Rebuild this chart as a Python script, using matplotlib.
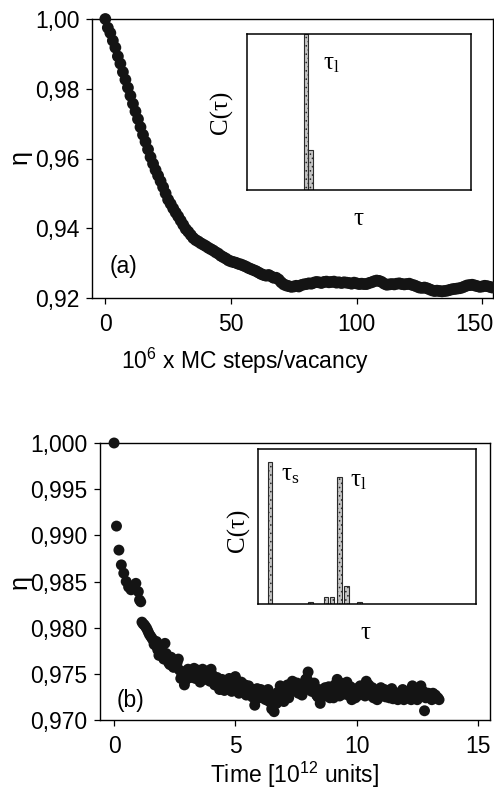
import numpy as np
import matplotlib
matplotlib.use('Agg')
import matplotlib.pyplot as plt
import matplotlib.transforms as mtransforms
from matplotlib.ticker import FuncFormatter

plt.rcParams['font.family'] = ['Liberation Sans', 'DejaVu Sans']
plt.rcParams['mathtext.fontset'] = 'custom'
plt.rcParams['mathtext.rm'] = 'Liberation Serif'
plt.rcParams['mathtext.sf'] = 'Liberation Sans'
plt.rcParams['hatch.linewidth'] = 0.6

# panel (a): eta vs 10^6 MC steps/vacancy, one point per unit step
eta_a = [
    1.0000, 0.9975, 0.9960, 0.9938, 0.9918, 0.9893, 0.9872, 0.9848, 0.9826, 0.9803,
    0.9780, 0.9757, 0.9735, 0.9713, 0.9690, 0.9668, 0.9648, 0.9626, 0.9604, 0.9585,
    0.9567, 0.9551, 0.9535, 0.9518, 0.9500, 0.9482, 0.9470, 0.9457, 0.9445, 0.9434,
    0.9422, 0.9410, 0.9398, 0.9390, 0.9381, 0.9372, 0.9366, 0.9362, 0.9357, 0.9353,
    0.9349, 0.9344, 0.9340, 0.9336, 0.9331, 0.9327, 0.9321, 0.9317, 0.9313, 0.9308,
    0.9305, 0.9303, 0.9301, 0.9298, 0.9296, 0.9293, 0.9290, 0.9286, 0.9283, 0.9280,
    0.9277, 0.9273, 0.9269, 0.9266, 0.9264, 0.9266, 0.9262, 0.9258, 0.9258, 0.9253,
    0.9245, 0.9239, 0.9236, 0.9234, 0.9232, 0.9233, 0.9235, 0.9233, 0.9237, 0.9239,
    0.9240, 0.9242, 0.9241, 0.9244, 0.9246, 0.9245, 0.9243, 0.9246, 0.9247, 0.9245,
    0.9246, 0.9247, 0.9244, 0.9245, 0.9243, 0.9245, 0.9244, 0.9243, 0.9241, 0.9244,
    0.9242, 0.9240, 0.9241, 0.9240, 0.9240, 0.9243, 0.9245, 0.9248, 0.9250, 0.9249,
    0.9246, 0.9241, 0.9238, 0.9239, 0.9240, 0.9239, 0.9241, 0.9242, 0.9240, 0.9239,
    0.9240, 0.9241, 0.9238, 0.9236, 0.9233, 0.9230, 0.9229, 0.9230, 0.9228, 0.9225,
    0.9222, 0.9220, 0.9221, 0.9220, 0.9219, 0.9220, 0.9221, 0.9223, 0.9225, 0.9226,
    0.9227, 0.9228, 0.9230, 0.9233, 0.9236, 0.9237, 0.9238, 0.9236, 0.9234, 0.9232,
    0.9233, 0.9235, 0.9234, 0.9232, 0.9230,
]
steps_a = np.arange(len(eta_a))

# panel (b): eta vs time [10^12 units], sampled every 0.1 from 0
eta_b = [
    1.0000, 0.9910, 0.9884, 0.9868, 0.9859, 0.9850, 0.9844, 0.9841, 0.9843, 0.9848,
    0.9839, 0.9828, 0.9804, 0.9801, 0.9796, 0.9791, 0.9787, 0.9781, 0.9776, 0.9772,
    0.9770, 0.9783, 0.9765, 0.9760, 0.9766, 0.9764, 0.9762, 0.9754, 0.9748, 0.9738,
    0.9747, 0.9752, 0.9749, 0.9756, 0.9750, 0.9744, 0.9748, 0.9751, 0.9746, 0.9749,
    0.9755, 0.9747, 0.9743, 0.9740, 0.9735, 0.9741, 0.9737, 0.9743, 0.9738, 0.9733,
    0.9747, 0.9742, 0.9736, 0.9731, 0.9738, 0.9733, 0.9729, 0.9725, 0.9716, 0.9734,
    0.9728, 0.9724, 0.9730, 0.9725, 0.9720, 0.9712, 0.9709, 0.9718, 0.9726, 0.9734,
    0.9720, 0.9729, 0.9724, 0.9736, 0.9741, 0.9733, 0.9729, 0.9737, 0.9731, 0.9744,
    0.9752, 0.9740, 0.9735, 0.9730, 0.9725, 0.9718, 0.9728, 0.9735, 0.9731, 0.9724,
    0.9733, 0.9738, 0.9744, 0.9726, 0.9732, 0.9737, 0.9741, 0.9730, 0.9722, 0.9728,
    0.9734, 0.9727, 0.9733, 0.9736, 0.9742, 0.9738, 0.9730, 0.9724, 0.9726, 0.9731,
    0.9735, 0.9729, 0.9725, 0.9732, 0.9729, 0.9723, 0.9727, 0.9722, 0.9730, 0.9733,
    0.9728, 0.9724, 0.9732, 0.9737, 0.9730, 0.9722, 0.9734, 0.9728, 0.9710, 0.9725,
    0.9728, 0.9722, 0.9726, 0.9724, 0.9722,
]
time_b = np.arange(len(eta_b)) * 0.1

# panel (b): the in-between samples, every 0.1 from 1.05
eta_b_mid = [
    0.9830, 0.9806, 0.9803, 0.9799, 0.9793, 0.9789, 0.9782, 0.9785, 0.9770, 0.9777,
    0.9766, 0.9772, 0.9762, 0.9768, 0.9757, 0.9760, 0.9766, 0.9745, 0.9752, 0.9743,
    0.9755, 0.9746, 0.9752, 0.9745, 0.9754, 0.9741, 0.9755, 0.9744, 0.9753, 0.9742,
    0.9749, 0.9738, 0.9746, 0.9733, 0.9744, 0.9732, 0.9740, 0.9745, 0.9731, 0.9740,
    0.9737, 0.9729, 0.9741, 0.9735, 0.9727, 0.9737, 0.9731, 0.9733, 0.9722, 0.9729,
    0.9733, 0.9727, 0.9722, 0.9733, 0.9726, 0.9716, 0.9722, 0.9730, 0.9737, 0.9726,
    0.9733, 0.9738, 0.9730, 0.9742, 0.9736, 0.9740, 0.9732, 0.9727, 0.9738, 0.9745,
    0.9736, 0.9731, 0.9740, 0.9727, 0.9733, 0.9724, 0.9731, 0.9727, 0.9736, 0.9729,
    0.9724, 0.9731, 0.9736, 0.9740, 0.9728, 0.9733, 0.9727, 0.9736, 0.9729, 0.9724,
    0.9730, 0.9737, 0.9729, 0.9726, 0.9733, 0.9727, 0.9735, 0.9729, 0.9722, 0.9728,
    0.9726, 0.9733, 0.9728, 0.9724, 0.9734, 0.9729, 0.9724, 0.9728, 0.9725, 0.9722,
    0.9731, 0.9727, 0.9722, 0.9728, 0.9734, 0.9727, 0.9737, 0.9731, 0.9724, 0.9729,
    0.9725, 0.9729, 0.9727, 0.9724,
]
time_b_mid = 1.05 + np.arange(len(eta_b_mid)) * 0.1

# insets: correlation C(tau) histograms
tau_a = [26.3, 28.3]
c_a = [1.0, 0.256]
tau_b = [5.4, 24.1, 31.1, 34.0, 37.4, 40.6, 46.6]
c_b = [0.918, 0.010, 0.045, 0.045, 0.822, 0.118, 0.015]

W, H = 494, 792
fig = plt.figure(figsize=(W / 100, H / 100), dpi=100)


def box(l, t, r, b):
    return [l / W, 1 - b / H, (r - l) / W, (b - t) / H]


def ftext(x, y, s, **kw):
    fig.text(x / W, 1 - y / H, s, ha='center', va='center', **kw)


dot = '#141414'
fs = 16.5
gfs = 18


def style_main(ax):
    for sp in ax.spines.values():
        sp.set_linewidth(1.0)
    ax.tick_params(direction='out', length=4, width=0.9, labelsize=fs,
                   top=False, right=False)
    ax.tick_params(axis='x', pad=7)
    ax.tick_params(axis='y', pad=5)


def style_inset(ax, xs, ys):
    ax.bar(xs, ys, width=2.0, facecolor='#c4c4c4', edgecolor='#2a2a2a',
           linewidth=0.8, hatch='....')
    ax.set_xlim(0, 100)
    ax.set_ylim(0, 1)
    ax.set_xticks([])
    ax.set_yticks([])
    for sp in ax.spines.values():
        sp.set_linewidth(1.1)


serif = ['Liberation Serif', 'DejaVu Serif']

# ---- (a)
ax1 = fig.add_axes(box(92, 19, 493, 298))
ax1.scatter(steps_a, eta_a, s=72, color=dot, edgecolors='none', clip_on=False, zorder=3)
ax1.set_xlim(-5.3, 154.3)
ax1.set_ylim(0.92, 1.00)
ax1.set_xticks([0, 50, 100, 150])
ax1.set_yticks([0.92, 0.94, 0.96, 0.98, 1.00])
ax1.yaxis.set_major_formatter(FuncFormatter(lambda v, p: f'{v:.2f}'.replace('.', ',')))
style_main(ax1)
# keep "150" inside the picture
last = ax1.get_xticklabels()[-1]
last.set_transform(last.get_transform() +
                   mtransforms.ScaledTranslation(-8 / 100, 0, fig.dpi_scale_trans))

in1 = fig.add_axes(box(247, 34, 471, 190))
style_inset(in1, tau_a, c_a)

ftext(20, 157, 'η', fontsize=gfs, rotation=90)
ftext(123, 266, '(a)', fontsize=fs)
ftext(245, 361, r'10$^{\mathsf{6}}$ x MC steps/vacancy', fontsize=fs)
ftext(221, 112, 'C(τ)', fontsize=gfs, rotation=90, family=serif)
ftext(358, 219, 'τ', fontsize=gfs, family=serif)
ftext(331, 63, r'$\mathrm{\tau_l}$', fontsize=gfs)

# ---- (b)
ax2 = fig.add_axes(box(100, 443, 490, 720))
ax2.scatter(time_b, eta_b, s=62, color=dot, edgecolors='none', clip_on=False, zorder=3)
ax2.scatter(time_b_mid, eta_b_mid, s=62, color=dot, edgecolors='none', clip_on=False, zorder=3)
ax2.set_xlim(-0.58, 15.5)
ax2.set_ylim(0.970, 1.000)
ax2.set_xticks([0, 5, 10, 15])
ax2.set_yticks([0.970, 0.975, 0.980, 0.985, 0.990, 0.995, 1.000])
ax2.yaxis.set_major_formatter(FuncFormatter(lambda v, p: f'{v:.3f}'.replace('.', ',')))
style_main(ax2)

in2 = fig.add_axes(box(258, 449, 476, 604))
style_inset(in2, tau_b, c_b)

ftext(20, 582, 'η', fontsize=gfs, rotation=90)
ftext(130, 700, '(b)', fontsize=fs)
ftext(295, 775, r'Time [10$^{\mathsf{12}}$ units]', fontsize=fs)
ftext(238, 530, 'C(τ)', fontsize=gfs, rotation=90, family=serif)
ftext(365, 633, 'τ', fontsize=gfs, family=serif)
ftext(290, 474, r'$\mathrm{\tau_s}$', fontsize=gfs)
ftext(358, 480, r'$\mathrm{\tau_l}$', fontsize=gfs)

fig.savefig('out.png', dpi=100)
